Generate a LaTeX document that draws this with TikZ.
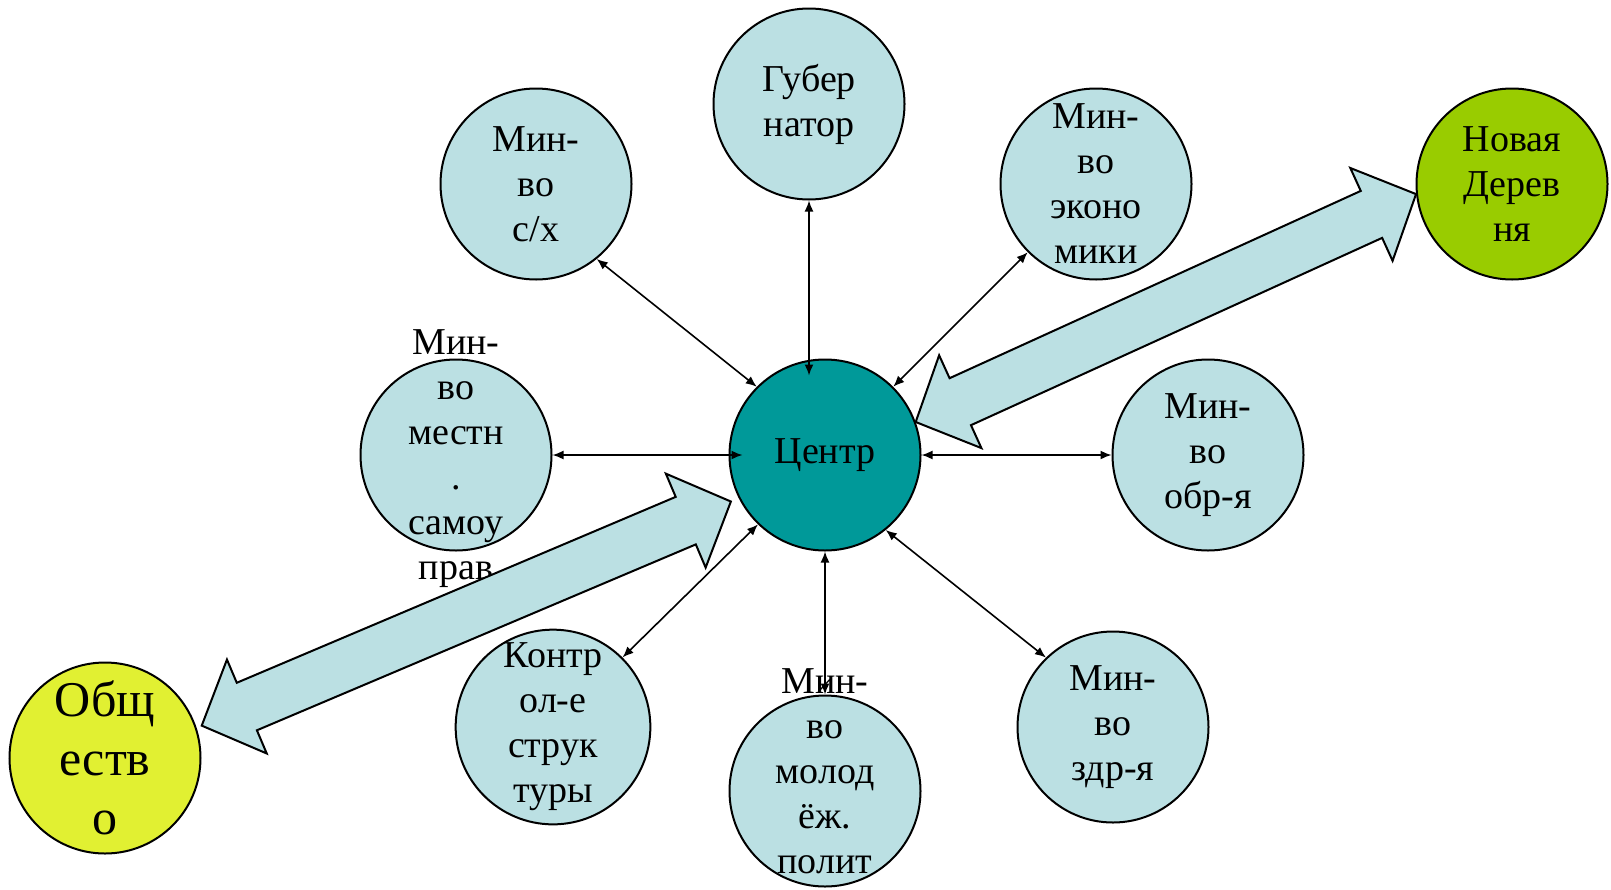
\documentclass[tikz,border=0pt]{standalone}
\usepackage{fontspec}
\setmainfont{Liberation Serif}
\usepackage{tikz}
\usetikzlibrary{arrows, arrows.meta, positioning, calc}
\definecolor{bubbleblue}{HTML}{BBE0E3}
\definecolor{centreteal}{HTML}{009999}
\definecolor{villagegreen}{HTML}{99CC00}
\definecolor{societyyellow}{HTML}{E1F032}
\tikzset{
  bubble/.style={circle,draw=black,line width=1pt,fill=bubbleblue,minimum size=95.5pt,inner sep=0pt,align=center,font=\fontsize{19}{22.5}\selectfont},
  centre/.style={bubble,fill=centreteal},
  village/.style={bubble,fill=villagegreen},
  society/.style={bubble,fill=societyyellow,font=\fontsize{25}{29.5}\selectfont},
  txt/.style={align=center,inner sep=0pt,font=\fontsize{19}{22.5}\selectfont},
  link/.style={{Latex[length=5.5pt,width=4.5pt]}-{Latex[length=5.5pt,width=4.5pt]},line width=0.8pt,black},
  bigarrow/.style={draw=black,line width=1pt,fill=bubbleblue,line join=miter},
}
% double block arrow between two tips
\newcommand{\blockarrow}[2]{%
  \coordinate (#1-h) at ($(#1)!24.5pt!(#2)$);
  \coordinate (#2-h) at ($(#2)!24.5pt!(#1)$);
  \draw[bigarrow] (#1)
    -- ($(#1-h)!25.5pt!90:(#2)$) -- ($(#1-h)!12.9pt!90:(#2)$)
    -- ($(#2-h)!12.9pt!-90:(#1)$) -- ($(#2-h)!25.5pt!-90:(#1)$)
    -- (#2)
    -- ($(#2-h)!25.5pt!90:(#1)$) -- ($(#2-h)!12.9pt!90:(#1)$)
    -- ($(#1-h)!12.9pt!-90:(#2)$) -- ($(#1-h)!25.5pt!-90:(#2)$)
    -- cycle;}

\begin{document}
\begin{tikzpicture}[x=0.5pt,y=0.5pt]
	    \useasboundingbox (0,0) rectangle (1611,-889);
	    \node[centre] (ctr) at (825,-455) {Центр};
	    \node[bubble] (gub) at (809,-104) {Губер\\натор};
	    \node[bubble] (sx) at (536,-184) {Мин-\\во\\с/х};
	    \node[bubble] (eco) at (1096,-184) {Мин-\\во\\эконо\\мики};
	    \node[village] (nd) at (1512,-184) {Новая\\Дерев\\ня};
	    \node[bubble] (mest) at (456,-455) {};
	    \node[txt] (mesttxt) at ($(mest)+(0,-4)$) {Мин-\\во\\местн\\.\\самоу\\прав};
	    \node[bubble] (obr) at (1208,-455) {Мин-\\во\\обр-я};
	    \node[society] (obs) at (105,-758) {Общ\\еств\\о};
	    \node[bubble] (kon) at (553,-727) {Контр\\ол-е\\струк\\туры};
	    \node[bubble] (molod) at (825,-791) {};
	    \node[txt] (molodtxt) at ($(molod)+(0,20)$) {Мин-\\во\\молод\\ёж.\\полит};
	    \node[bubble] (zdr) at (1113,-727) {Мин-\\во\\здр-я};
	    % thin links to the centre
	    \draw[link] (gub.south) -- ($(gub.south |- ctr.north)+(0,-17)$);
	    \draw[link] (sx.-51) -- (ctr.135);
	    \draw[link] (eco.225) -- (ctr.45);
	    \draw[link] (mest.east) -- ($(ctr.west)+(14,0)$);
	    \draw[link] (ctr.east) -- (obr.west);
	    \draw[link] (kon.45) -- (ctr.226);
	    \draw[link] (ctr.south) -- (molod.north);
	    \draw[link] (ctr.-51) -- (zdr.134);
	    % wide arrows
	    \coordinate (ctrtipa) at (ctr.20);
	    \coordinate (ndtip) at (nd.186);
	    \coordinate (ctrtipb) at ($(ctr)+(206.3:105)$);
	    \coordinate (obstip) at ($(obs)+(18.5:102)$);
	    \blockarrow{ctrtipa}{ndtip}
	    \blockarrow{obstip}{ctrtipb}
	\end{tikzpicture}
\end{document}
